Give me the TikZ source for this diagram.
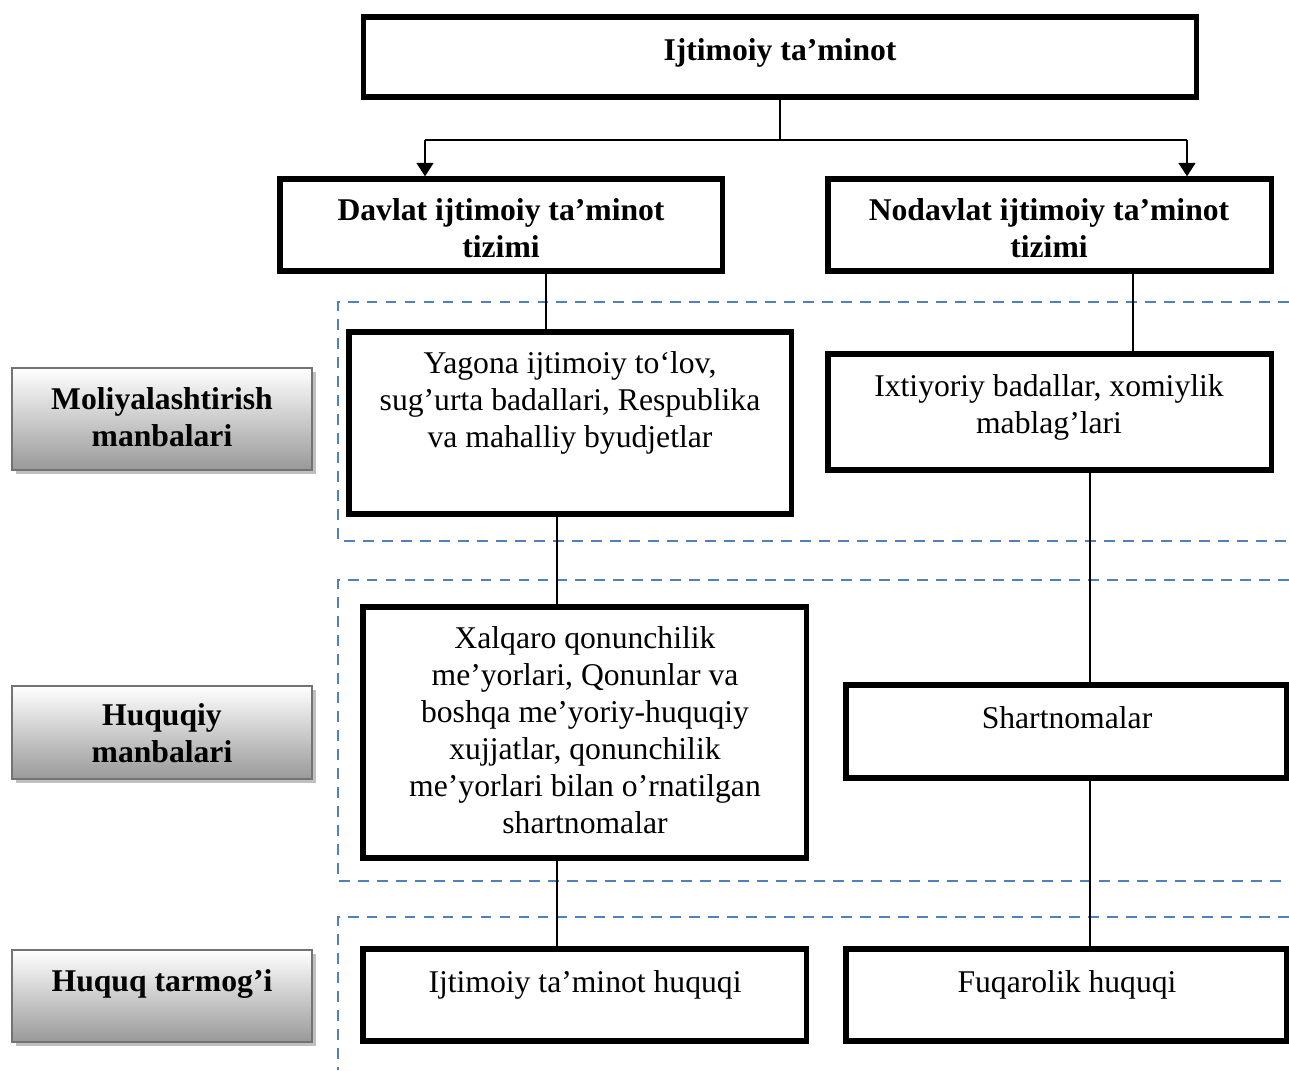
\documentclass[tikz,border=0pt]{standalone}
\usepackage{fontspec}
\setmainfont{Liberation Serif}
\usetikzlibrary{arrows.meta,shadows}

\definecolor{zoneblue}{RGB}{79,129,189}

\tikzset{
  box/.style={draw, line width=1.5pt, inner sep=0pt},
  side/.style={draw=black!55, line width=0.6pt, inner sep=0pt,
    top color=white, bottom color=black!40,
    drop shadow={shadow xshift=0.04cm, shadow yshift=-0.04cm, fill=black!25, opacity=1}},
  txt/.style={align=center, inner sep=0pt, yshift=-0.03cm, font=\fontsize{9}{10.5}\selectfont},
  btxt/.style={txt, font=\fontsize{9}{10.5}\selectfont\bfseries},
  link/.style={line width=0.45pt},
  arr/.style={link, -{Triangle[width=4.8pt,length=3.8pt]}},
  zone/.style={draw=zoneblue, line width=0.8pt, dash pattern=on 3.1pt off 2.3pt},
}

\begin{document}
\begin{tikzpicture}[x=0.01cm, y=-0.01cm]
	\useasboundingbox (0,0) rectangle (1289,1070);

	% zones
	\draw [zone] (1289,302) -- (338,302) -- (338,541) -- (1289,541);
	\draw [zone] (1289,580) -- (338,580) -- (338,881) -- (1289,881);
	\draw [zone] (1289,917) -- (338,917) -- (338,1070);

	% top
	\node [box, minimum width=8.32cm, minimum height=0.80cm] (top) at (780,57) {};
	\node [btxt] (top-t) at (780,50) {Ijtimoiy ta’minot};

	% two systems
	\node [box, minimum width=4.42cm, minimum height=0.92cm] (davlat) at (501,225) {};
	\node [btxt] (davlat-t) at (501,225) {Davlat ijtimoiy ta’minot\\tizimi};
	\node [box, minimum width=4.43cm, minimum height=0.92cm] (nodavlat) at (1049.5,225) {};
	\node [btxt] (nodavlat-t) at (1049,225) {Nodavlat ijtimoiy ta’minot\\tizimi};

	% top to systems
	\coordinate (fork) at (top.south |- 0,140);
	\coordinate (forkl) at (425,140);
	\coordinate (forkr) at (1187,140);
	\draw [link] (top.south) -- (fork);
	\draw [link] (forkl) -- (forkr);
	\draw [arr] (forkl) -- (forkl |- davlat.north);
	\draw [arr] (forkr) -- (forkr |- nodavlat.north);

	% financing
	\node [box, minimum width=4.42cm, minimum height=1.82cm] (yagona) at (570,423) {};
	\node [txt] (yagona-t) at (570,400) {Yagona ijtimoiy to‘lov,\\sug’urta badallari, Respublika\\va mahalliy byudjetlar};
	\node [box, minimum width=4.43cm, minimum height=1.16cm] (ixtiyor) at (1049.5,412) {};
	\node [txt] (ixtiyor-t) at (1049,404) {Ixtiyoriy badallar, xomiylik\\mablag’lari};
	\draw [link] (546,0 |- davlat.south) -- (546,0 |- yagona.north);
	\draw [link] (1133,0 |- nodavlat.south) -- (1133,0 |- ixtiyor.north);

	% legal sources
	\node [box, minimum width=4.43cm, minimum height=2.51cm] (xalqaro) at (584.5,732.5) {};
	\node [txt] (xalqaro-t) at (585,727) {Xalqaro qonunchilik\\me’yorlari, Qonunlar va\\boshqa me’yoriy-huquqiy\\xujjatlar, qonunchilik\\me’yorlari bilan o’rnatilgan\\shartnomalar};
	\node [box, minimum width=4.40cm, minimum height=0.93cm] (shartnoma) at (1066,731.5) {};
	\node [txt] (shartnoma-t) at (1067,715) {Shartnomalar};
	\draw [link] (557,0 |- yagona.south) -- (557,0 |- xalqaro.north);
	\draw [link] (1090,0 |- ixtiyor.south) -- (1090,0 |- shartnoma.north);

	% branches of law
	\node [box, minimum width=4.43cm, minimum height=0.92cm] (ijhuquq) at (584.5,995) {};
	\node [txt] (ijhuquq-t) at (585,982) {Ijtimoiy ta’minot huquqi};
	\node [box, minimum width=4.40cm, minimum height=0.92cm] (fuqaro) at (1066,995) {};
	\node [txt] (fuqaro-t) at (1067,982) {Fuqarolik huquqi};
	\draw [link] (557,0 |- xalqaro.south) -- (557,0 |- ijhuquq.north);
	\draw [link] (1090,0 |- shartnoma.south) -- (1090,0 |- fuqaro.north);

	% side labels
	\node [side, minimum width=3.00cm, minimum height=1.02cm] (moliya) at (162,419) {};
	\node [btxt] (moliya-t) at (162,414) {Moliyalashtirish\\manbalari};
	\node [side, minimum width=3.00cm, minimum height=0.93cm] (huquqiy) at (162,732.5) {};
	\node [btxt] (huquqiy-t) at (162,730) {Huquqiy\\manbalari};
	\node [side, minimum width=3.00cm, minimum height=0.92cm] (tarmoq) at (162,996) {};
	\node [btxt] (tarmoq-t) at (162,981) {Huquq tarmog’i};

\end{tikzpicture}
\end{document}
